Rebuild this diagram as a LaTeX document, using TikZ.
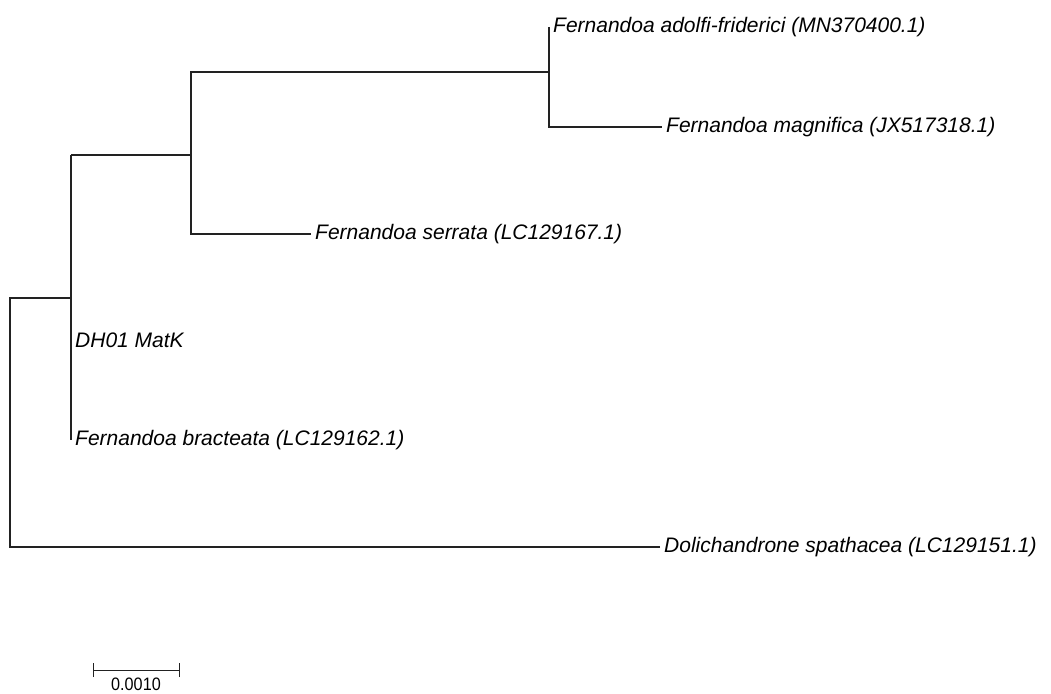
\documentclass[tikz,border=0pt]{standalone}
\usepackage{fontspec}
\setmainfont{Liberation Sans}
\newfontfamily\scalefont[FakeStretch=0.9]{Liberation Sans}
\usetikzlibrary{positioning,calc}
\definecolor{Branch}{HTML}{222222}

\begin{document}
\begin{tikzpicture}[x=1pt,y=-1pt,
  branch/.style={draw=Branch,line width=1.1pt},
  taxon/.style={anchor=west,inner sep=0pt,font=\itshape\fontsize{21}{24}\selectfont},
  scalelbl/.style={anchor=north,inner sep=0pt,font=\scalefont\fontsize{18}{20}\selectfont}
]
  \useasboundingbox (0,0) rectangle (1051,693);

  % internal nodes
  \coordinate (root) at (10,298);
  \coordinate (nA) at (71,155);
  \coordinate (nB) at (191,72);
  \coordinate (nC) at (549,72);

  % tips
  \coordinate (tAdo) at (549,27);
  \coordinate (tMag) at (662,127);
  \coordinate (tSer) at (311,234);
  \coordinate (tDH) at (71,340);
  \coordinate (tBra) at (71,440);
  \coordinate (tDol) at (660,547);

  % labels
  \node[taxon,right=4pt of tAdo] (lAdo) {Fernandoa adolfi-friderici (MN370400.1)};
  \node[taxon,right=4pt of tMag] (lMag) {Fernandoa magnifica (JX517318.1)};
  \node[taxon,right=4pt of tSer] (lSer) {Fernandoa serrata (LC129167.1)};
  \node[taxon,right=4pt of tDH] (lDH) {DH01 MatK};
  \node[taxon,right=4pt of tBra] (lBra) {Fernandoa bracteata (LC129162.1)};
  \node[taxon,right=4pt of tDol] (lDol) {Dolichandrone spathacea (LC129151.1)};

  % branches
  \draw[branch] (tDol) -| (root) |- (nA |- root);
  \draw[branch] (nA) -- (tBra);
  \draw[branch] (nA) -| (nB |- tSer) -- (tSer);
  \draw[branch] (nB |- nA) -- (nB) -- (nC);
  \draw[branch] (tAdo) -- (nC |- tMag) -- (tMag);

  % scale bar
  \coordinate (sL) at (93,670);
  \coordinate (sR) at (179,670);
  \draw[branch,line width=1pt] (sL) -- (sR);
  \draw[branch,line width=1pt] ([yshift=-7pt]sL) -- ([yshift=7pt]sL);
  \draw[branch,line width=1pt] ([yshift=-7pt]sR) -- ([yshift=7pt]sR);
  \node[scalelbl] (sLbl) at ([yshift=-8pt]$(sL)!0.5!(sR)$) {0.0010};
\end{tikzpicture}
\end{document}
